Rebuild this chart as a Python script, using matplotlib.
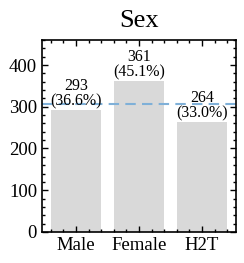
import numpy as np
import matplotlib
matplotlib.use('Agg')
import matplotlib.pyplot as plt

categories = ['Male', 'Female', 'H2T']
counts = [293, 361, 264]
total = 800  # percentages in the picture are of 800

plt.rcParams['font.family'] = 'serif'
plt.rcParams['font.serif'] = ['Liberation Serif', 'DejaVu Serif']
plt.rcParams['mathtext.fontset'] = 'stix'

fig, ax = plt.subplots(figsize=(2.44, 2.63), dpi=100)
x = np.arange(len(categories))
ax.bar(x, counts, width=0.8, color='#d9d9d9')
mean = np.mean(counts)
ax.axhline(mean, color='#7fb0d8', linestyle='--', linewidth=1.5, dashes=(5, 3))

for xi, c in zip(x, counts):
    ax.text(xi, c + 1, f'{c}\n({c / total * 100:.1f}%)', ha='center', va='bottom',
            fontsize=11.5, linespacing=0.95)

ax.set_xticks(x)
ax.set_xticklabels(categories)
ax.set_ylim(0, 460)
ax.set_yticks([0, 100, 200, 300, 400])
ax.xaxis.set_minor_locator(matplotlib.ticker.AutoMinorLocator(5))
ax.yaxis.set_minor_locator(matplotlib.ticker.AutoMinorLocator(5))
ax.tick_params(which='both', direction='in', top=True, right=True, labelsize=13.5)
ax.tick_params(which='major', length=4.5, width=1)
ax.tick_params(which='minor', length=2.5, width=1)
for s in ax.spines.values():
    s.set_linewidth(1.2)
ax.set_title('Sex', fontsize=19, pad=9)

fig.subplots_adjust(left=0.172, right=0.967, top=0.848, bottom=0.118)
fig.savefig('out.png', dpi=100)
